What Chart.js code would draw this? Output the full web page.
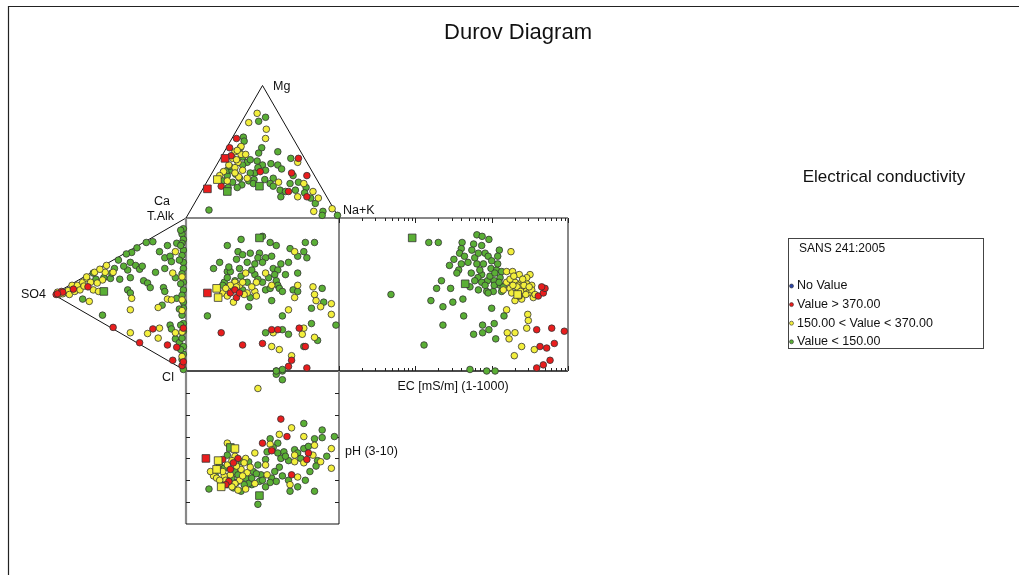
<!DOCTYPE html>
<html>
<head>
<meta charset="utf-8">
<title>Durov Diagram</title>
<script src="https://cdn.jsdelivr.net/npm/chart.js@4.4.1/dist/chart.umd.min.js"></script>
<style>
  html, body { margin: 0; padding: 0; background: #fff; }
  canvas { display: block; }
</style>
</head>
<body>
<canvas id="durov" width="1019" height="575"></canvas>
<script>
// ---- data ----

// cation triangle: [Mg %, Na+K %]  (Ca is the remainder)
const catGreen = [[73,11],[76,14],[61,7],[58,9],[53,9],[53,23],[49,23],[50,35],[42,19],[43,25],[40,30],[41,35],[40,40],[45,46],[40,17],[37,44],[34,28],[34,25],[36,34],[32,54],[30,42],[26,42],[24,45],[27,60],[23,67],[28,10],[32,11],[36,9],[27,17],[25,24],[23,16],[23,22],[28,27],[21,51],[20,55],[16,54],[21,61],[19,68],[15,74],[11,79],[5,87],[2,98],[2,88],[6,12],[36,12],[29,30],[26,55],[29,37],
  [46,14],[39,9],[33,16],[30,20],[44,20],[38,28],[26,31]];
const catYellow = [[79,7],[72,5],[67,19],[60,22],[54,9],[50,7],[45,8],[48,12],[42,13],[42,52],[38,13],[27,47],[26,64],[35,7],[16,65],[20,73],[15,79],[5,81],[7,92],[51,8],[48,15],[36,19],[31,19],[32,6],[30,25],
  [44,11],[40,8],[34,15],[28,13]];
const catRed = [[60,3],[53,2],[47,6],[35,31],[34,52],[32,63],[24,11],[20,57],[16,71],[45,51]];
const catBoxed = [[45,3,'r'],[29,6,'y'],[22,3,'r'],[20,17,'g'],[24,36,'g']];

// anion triangle: [SO4 %, T.Alk %]  (Cl is the remainder)
const anGreen = [[80,15],[68,26],[57,32],[56,36],[51,47],[42,50],[41,57],[44,44],[38,50],[35,49],[33,52],[50,35],[42,40],[32,43],[29,43],[27,41],[44,31],[42,30],[78,8],[63,5],[25,72],[14,75],[20,68],[16,66],[12,69],[11,66],[7,80],[16,59],[23,53],[8,57],[17,46],[16,44],[7,44],[18,34],[12,24],[11,22],[8,17],[5,16],[2,0],[45,54],[37,62],[30,69],[70,29],
  [2,92],[3,88],[2,85],[3,82],[2,78],[3,74],[2,70],[2,66],[3,62],[2,57],[2,52],[3,48],[2,44],[2,40],[3,35],[2,30],[2,25],[3,20],[2,15],[2,10],[3,6],[4,90],[4,80],[5,70],[4,55],[5,38],[4,28],[4,12],
  [62,30],[54,40],[47,45]];
const anYellow = [[97,3],[89,8],[86,13],[82,15],[78,19],[75,23],[70,18],[66,19],[69,30],[61,34],[63,28],[55,37],[41,27],[73,9],[42,19],[8,74],[10,59],[14,40],[11,41],[21,31],[42,4],[29,10],[20,18],[21,11],[8,21],[60,39],[65,34],[75,24],[3,60],[3,45],[3,38],[3,24],[3,8],[96,2],[93,4],
  [88,6],[84,10],[80,13],[77,17],[72,22],[67,24]];
const anRed = [[98,1],[94,5],[93,5],[85,11],[74,18],[55,1],[35,1],[25,15],[14,10],[7,12],[10,2],[3,2],[2,27],[97,2],[2,5]];
const anBoxed = [[62,21,'g']];

// central square: [cation axis %, anion axis %]
const sqGreen = [[50,88],[36,86],[27,82],[55,84],[59,82],[78,84],[84,84],[68,80],[77,78],[73,75],[79,74],[34,78],[37,76],[42,77],[48,77],[47,74],[52,74],[56,75],[33,73],[40,71],[22,71],[45,70],[50,71],[18,67],[27,65],[29,65],[35,67],[57,67],[60,66],[67,71],[73,64],[65,63],[58,63],[45,63],[32,59],[40,58],[50,58],[59,59],[60,56],[52,53],[55,54],[61,54],[63,52],[70,53],[73,52],[89,54],[90,45],[82,41],[98,30],[63,36],[56,46],[41,42],[14,36],[25,58],[27,61],[24,56],[42,48],[37,53],[31,54],[52,25],[63,27],[67,24],[82,31],[86,20],[77,16],[63,1],[59,0],
  [28,68],[43,66],[47,60],[36,62],[54,61],[62,70]];
const sqYellow = [[71,78],[39,64],[52,64],[32,58],[46,58],[56,56],[73,56],[83,55],[84,50],[85,46],[95,44],[88,42],[95,37],[67,40],[71,48],[24,51],[27,49],[31,45],[29,56],[35,56],[37,58],[40,51],[45,52],[46,49],[57,25],[77,28],[76,24],[84,22],[56,16],[61,14],[69,10],
  [26,54],[33,55],[38,50],[43,55]];
const sqRed = [[29,51],[32,53],[33,48],[23,25],[37,17],[50,18],[56,27],[60,27],[74,28],[78,16],[69,7],[67,3],[79,2],[35,51]];
const sqBoxed = [[48,87,'g'],[14,51,'r'],[20,54,'y'],[21,48,'y']];

// EC box: [EC mS/m, anion axis %]
const ecGreen = [[15,84],[20,84],[64,89],[75,88],[92,86],[41,84],[58,83],[74,82],[40,80],[126,79],[38,77],[44,75],[60,74],[82,77],[90,75],[120,75],[32,73],[28,69],[40,70],[49,71],[64,70],[78,70],[98,67],[116,66],[135,65],[37,66],[35,64],[54,64],[74,63],[66,61],[88,59],[108,59],[129,61],[52,55],[22,59],[19,54],[29,54],[67,53],[86,52],[105,52],[4.8,50],[16,46],[31,45],[42,47],[23,42],[100,41],[43,36],[145,36],[23,30],[76,30],[108,31],[92,27],[76,25],[58,24],[113,21],[13,17],[52,1],[86,0],[111,0],[129,56],[142,55],[90,51],[108,56],[74,58],[60,59],[120,70],[55,79],[67,77],
  [95,62],[110,64],[125,58],[135,52],[82,56],[70,66],[100,72]];
const ecYellow = [[179,78],[157,65],[188,65],[230,63],[318,63],[157,58],[202,58],[247,58],[288,57],[335,56],[142,53],[174,54],[223,53],[273,53],[260,50],[302,51],[351,48],[202,46],[247,47],[157,40],[297,37],[302,33],[288,28],[160,25],[202,25],[169,21],[247,16],[362,14],[198,10],[174,60],[223,56],[183,51],[288,61],[247,55],[335,53],[370,50],
  [195,62],[215,55],[240,52],[265,56],[280,50],[310,55],[190,56],[230,49],[255,60]];
const ecRed = [[408,49],[475,51],[500,54],[452,55],[389,27],[612,28],[895,26],[430,16],[526,15],[662,18],[582,7],[475,4],[389,2]];
const ecBoxed = [[9.1,87,'g'],[45,57,'g'],[219,50,'y']];

// pH box: [cation axis %, pH]
const phGreen = [[59,3.0],[63,3.0],[59,3.15],[63,3.4],[77,5.4],[89,5.7],[97,6.0],[55,6.1],[84,6.1],[89,6.05],[60,6.3],[53,6.7],[60,6.75],[64,6.7],[71,6.6],[73,6.75],[77,6.55],[80,6.45],[67,7.1],[86,7.1],[85,7.35],[61,7.4],[63,7.8],[67,8.0],[78,8.0],[68,8.5],[73,8.3],[84,8.5],[56,7.9],[59,8.05],[55,8.1],[49,7.75],[47,7.3],[48,8.05],[52,7.05],[43,8.2],[47,9.1],[15,8.4],[19,7.75],[22,7.3],[27,6.85],[36,7.15],[41,7.15],[32,7.6],[34,7.75],[39,7.9],[41,8.15],[27,8.2],[36,8.5],[31,8.35],[23,8.15],[44,7.6],
  [25,7.45],[30,7.9],[33,8.1],[38,8.2],[43,7.9],[46,7.7],[50,8.0],[52,8.3],[58,7.6],[62,7.0],[57,6.5],[65,6.9],[75,7.0],[81,7.6],[92,6.9]];
const phYellow = [[47,3.8],[69,5.6],[61,5.9],[77,6.0],[55,6.35],[27,6.3],[56,6.6],[45,6.75],[84,6.4],[95,6.55],[71,6.85],[83,6.85],[71,7.15],[77,7.2],[88,7.15],[95,7.45],[73,7.85],[68,8.2],[52,7.3],[53,7.75],[45,8.15],[18,7.8],[25,7.8],[32,6.9],[39,7.0],[36,7.5],[29,7.75],[35,8.0],[32,8.15],[39,8.4],[26,8.0],[40,7.65],
  [20,7.9],[24,7.6],[27,7.3],[30,7.1],[33,7.35],[37,7.8],[42,7.4],[22,8.0],[30,8.3],[34,8.45],[38,7.2],[16,7.6]];
const phRed = [[62,5.2],[66,6.0],[50,6.3],[56,6.65],[80,6.75],[79,7.05],[69,7.75],[24,7.05],[29,7.5],[34,7.0],[28,8.05],[31,7.2],[26,8.2]];
const phBoxed = [[29,6.5,'g'],[32,6.55,'y'],[48,8.7,'g'],[13,7.0,'r'],[21,7.1,'y'],[20,7.5,'y'],[23,8.3,'y']];

const legendLabels = ['No Value', 'Value > 370.00', '150.00 < Value < 370.00', 'Value < 150.00'];
const ecTicks = [1, 2, 3, 4, 5, 6, 7, 8, 9, 10, 20, 30, 40, 50, 60, 70, 80, 90, 100, 200, 300, 400, 500, 600, 700, 800, 900, 1000];
const phTicks = [4, 5, 6, 7, 8, 9];

// ---- layout ----
const W = 1019, H = 575;
const SQ_LEFT = 186, SQ_BASE = 371, UNIT = 1.53;   // square = 100 units
const DECADE = 229 / 3, EC_LEFT = 339;            // EC box 1..1000
const PH_STEP = 153 / 7;                           // pH box 3..10
const H3 = Math.sqrt(3) / 2;
const FONT = "'Liberation Sans', Arial, sans-serif";

const COLORS = { g: '#5aaf35', y: '#f3ef3c', r: '#e91d1d', b: '#2b44a8' };

const cat = p => ({ x: p[1] + p[0] / 2, y: 100 + p[0] * H3 });
const an = p => ({ x: -p[0] * H3, y: p[1] + p[0] / 2 });
const xy = p => ({ x: p[0], y: p[1] });

const regions = [
  { map: cat, xAxisID: 'x', yAxisID: 'y', g: catGreen, y: catYellow, r: catRed, boxed: catBoxed },
  { map: an, xAxisID: 'x', yAxisID: 'y', g: anGreen, y: anYellow, r: anRed, boxed: anBoxed },
  { map: xy, xAxisID: 'x', yAxisID: 'y', g: sqGreen, y: sqYellow, r: sqRed, boxed: sqBoxed },
  { map: xy, xAxisID: 'ec', yAxisID: 'y', g: ecGreen, y: ecYellow, r: ecRed, boxed: ecBoxed },
  { map: xy, xAxisID: 'x', yAxisID: 'ph', g: phGreen, y: phYellow, r: phRed, boxed: phBoxed }
];

function pointSet(reg, data, color, boxed) {
  return {
    type: 'scatter',
    data: data.map(reg.map),
    xAxisID: reg.xAxisID,
    yAxisID: reg.yAxisID,
    pointStyle: boxed ? 'rect' : 'circle',
    pointRadius: boxed ? 5.4 : 3.3,
    pointBackgroundColor: COLORS[color],
    pointBorderColor: '#333',
    pointBorderWidth: 0.8
  };
}

// first dataset is painted last (on top)
const datasets = [];
['boxed', 'r', 'y', 'g'].forEach(key => {
  regions.forEach(reg => {
    if (key === 'boxed') {
      ['r', 'y', 'g'].forEach(c => {
        const pts = reg.boxed.filter(p => p[2] === c);
        if (pts.length) datasets.push(pointSet(reg, pts, c, true));
      });
    } else {
      datasets.push(pointSet(reg, reg[key], key, false));
    }
  });
});

// frames, ticks and texts
const durovFrame = {
  id: 'durovFrame',
  beforeDatasetsDraw(chart) {
    const { ctx, scales } = chart;
    const X = v => scales.x.getPixelForValue(v);
    const Y = v => scales.y.getPixelForValue(v);
    const E = v => scales.ec.getPixelForValue(v);
    const P = v => scales.ph.getPixelForValue(v);

    ctx.save();
    // outer border
    ctx.strokeStyle = '#222';
    ctx.lineWidth = 1.2;
    ctx.beginPath();
    ctx.moveTo(8.5, H + 2);
    ctx.lineTo(8.5, 6.5);
    ctx.lineTo(W + 2, 6.5);
    ctx.stroke();

    const line = (pts, color, width) => {
      ctx.strokeStyle = color;
      ctx.lineWidth = width;
      ctx.beginPath();
      pts.forEach((p, i) => i ? ctx.lineTo(p[0], p[1]) : ctx.moveTo(p[0], p[1]));
      ctx.stroke();
    };

    const x0 = X(0), x100 = X(100), y0 = Y(0), y100 = Y(100);
    const ecR = E(1000), phB = P(10);
    // triangles
    line([[x0, y100], [X(50), Y(100 + 100 * H3)], [x100, y100]], '#111', 1);
    line([[x0, y100], [X(-100 * H3), Y(50)], [x0, y0]], '#111', 1);
    // square + EC box outline
    line([[x0, y100], [ecR, y100]], '#111', 1.2);
    line([[x0, y0], [ecR, y0]], '#111', 1.5);
    line([[x100, y100], [x100, y0]], '#111', 1);
    line([[x0, y100], [x0, phB]], '#888', 2.2);
    line([[ecR, y100], [ecR, y0]], '#888', 2);
    // pH box
    line([[x100, y0], [x100, phB]], '#888', 2);
    line([[x0, phB], [x100, phB]], '#111', 1);

    // EC log ticks
    ctx.strokeStyle = '#222';
    ctx.lineWidth = 1;
    ecTicks.forEach(v => {
      const px = Math.round(E(v)) + 0.5;
      const major = Math.abs(Math.log10(v) % 1) < 1e-9;
      const len = major ? 5 : 3;
      ctx.beginPath();
      ctx.moveTo(px, y100); ctx.lineTo(px, y100 + len);
      ctx.moveTo(px, y0); ctx.lineTo(px, y0 - len);
      ctx.stroke();
    });
    // pH ticks
    phTicks.forEach(v => {
      const py = Math.round(P(v)) + 0.5;
      ctx.beginPath();
      ctx.moveTo(x0, py); ctx.lineTo(x0 + 4, py);
      ctx.moveTo(x100, py); ctx.lineTo(x100 - 4, py);
      ctx.stroke();
    });
    ctx.restore();
  },
  afterDatasetsDraw(chart) {
    const { ctx } = chart;
    ctx.save();
    ctx.fillStyle = '#111';
    ctx.textBaseline = 'middle';
    const text = (s, x, y, size, align) => {
      ctx.font = size + 'px ' + FONT;
      ctx.textAlign = align;
      ctx.fillText(s, x, y);
    };
    text('Durov Diagram', 518, 33, 22, 'center');
    text('Mg', 273, 87, 12.5, 'left');
    text('Na+K', 343, 211, 12.5, 'left');
    text('Ca', 162, 202, 12.5, 'center');
    text('T.Alk', 174, 217, 12.5, 'right');
    text('SO4', 46, 295, 12.5, 'right');
    text('Cl', 168, 378, 12.5, 'center');
    text('EC [mS/m] (1-1000)', 453, 387, 12.5, 'center');
    text('pH (3-10)', 345, 452, 12.5, 'left');
    text('Electrical conductivity', 884, 177, 17, 'center');

    // legend box
    ctx.strokeStyle = '#444';
    ctx.lineWidth = 1;
    ctx.strokeRect(788.5, 238.5, 195, 110);
    text('SANS 241:2005', 799, 249, 12, 'left');
    const dotColors = [COLORS.b, COLORS.r, COLORS.y, COLORS.g];
    legendLabels.forEach((lab, i) => {
      const y = 286 + i * 18.6;
      ctx.beginPath();
      ctx.arc(791.5, y, 2, 0, Math.PI * 2);
      ctx.fillStyle = dotColors[i];
      ctx.fill();
      ctx.strokeStyle = '#333';
      ctx.lineWidth = 0.6;
      ctx.stroke();
      ctx.fillStyle = '#111';
      text(lab, 797, y, 12.5, 'left');
    });
    ctx.restore();
  }
};

new Chart(document.getElementById('durov'), {
  type: 'scatter',
  data: { datasets: datasets },
  options: {
    responsive: false,
    animation: false,
    events: [],
    layout: { padding: 0, autoPadding: false },
    plugins: { legend: { display: false }, tooltip: { enabled: false }, title: { display: false } },
    scales: {
      x: { type: 'linear', display: false, min: -SQ_LEFT / UNIT, max: (W - SQ_LEFT) / UNIT },
      y: { type: 'linear', display: false, min: -(H - SQ_BASE) / UNIT, max: SQ_BASE / UNIT },
      ec: {
        type: 'logarithmic', axis: 'x', display: false,
        min: Math.pow(10, -EC_LEFT / DECADE), max: Math.pow(10, (W - EC_LEFT) / DECADE)
      },
      ph: {
        type: 'linear', axis: 'y', display: false, reverse: true,
        min: 3 - SQ_BASE / PH_STEP, max: 3 + (H - SQ_BASE) / PH_STEP
      }
    }
  },
  plugins: [durovFrame]
});
</script>
</body>
</html>
